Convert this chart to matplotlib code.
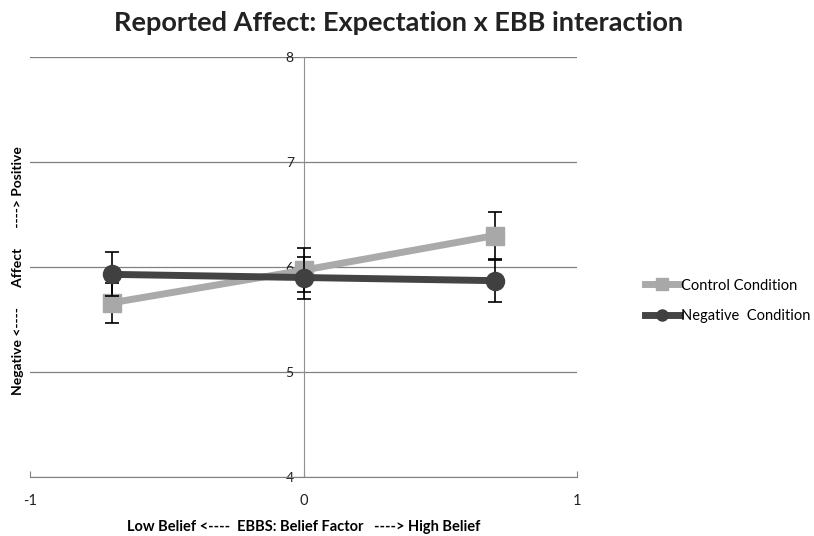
import matplotlib
matplotlib.use("Agg")
from matplotlib import pyplot as plt
from matplotlib.lines import Line2D

# values
belief = [-0.7, 0.0, 0.7]
control = [5.66, 5.97, 6.30]
control_err = [0.19, 0.21, 0.22]
negative = [5.93, 5.90, 5.87]
negative_err = [0.21, 0.20, 0.20]
yticks = [4, 5, 6, 7, 8]
xticks = [-1, 0, 1]
series_names = ['Control Condition', 'Negative  Condition']

plt.rcParams['font.family'] = ['Lato', 'DejaVu Sans']

fig = plt.figure(figsize=(8.14, 5.36), dpi=100)
ax = fig.add_axes([0.0369, 0.110, 0.672, 0.7837])

ax.errorbar(belief, control, yerr=control_err, color='#aaaaaa', lw=5,
            marker='s', ms=13, mfc='#a8a8a8', mec='#a8a8a8',
            ecolor='black', elinewidth=1.2, capsize=5, capthick=1.2,
            zorder=3)
ax.errorbar(belief, negative, yerr=negative_err, color='#444444', lw=5,
            marker='o', ms=13, mfc='#404040', mec='#404040',
            ecolor='black', elinewidth=1.2, capsize=5, capthick=1.2,
            zorder=4)

ax.set_xlim(-1, 1)
ax.set_ylim(4, 8)
ax.set_yticks(yticks)
ax.set_xticks(xticks)
ax.set_xticklabels([str(v) for v in xticks], fontsize=10.5)
ax.set_yticklabels([str(v) for v in yticks], fontsize=10.5)
ax.yaxis.grid(True, color='#808080', lw=0.9)
ax.set_axisbelow(True)

for s in ['top', 'right']:
    ax.spines[s].set_visible(False)
ax.spines['left'].set_position(('data', 0))
ax.spines['left'].set_color('#909090')
ax.spines['bottom'].set_color('#808080')
ax.tick_params(axis='y', length=3, pad=4, colors='#909090', labelcolor='#222222')
ax.tick_params(axis='x', direction='in', length=4, pad=12, colors='#808080',
               labelcolor='#222222')

ax.set_xlabel('Low Belief <----  EBBS: Belief Factor   ----> High Belief',
              fontsize=10.5, fontweight='bold', labelpad=9)
fig.text(0.022, 0.496, 'Negative <----      Affect      ----> Positive',
         rotation=90, ha='center', va='center', fontsize=10, fontweight='bold')

fig.suptitle('Reported Affect: Expectation x EBB interaction', x=0.49, y=0.98,
             fontsize=19.5, fontweight='bold', color='#222222')

handles = [
    Line2D([], [], color='#aaaaaa', lw=5, marker='s', ms=8, mfc='#a8a8a8', mec='#a8a8a8'),
    Line2D([], [], color='#444444', lw=5, marker='o', ms=8, mfc='#404040', mec='#404040'),
]
ax.legend(handles, series_names, loc='center left', bbox_to_anchor=(1.10, 0.42),
          frameon=False, fontsize=10.5, handlelength=2.4, handletextpad=0.1,
          labelspacing=1.1)

fig.savefig('out.png', dpi=100)
